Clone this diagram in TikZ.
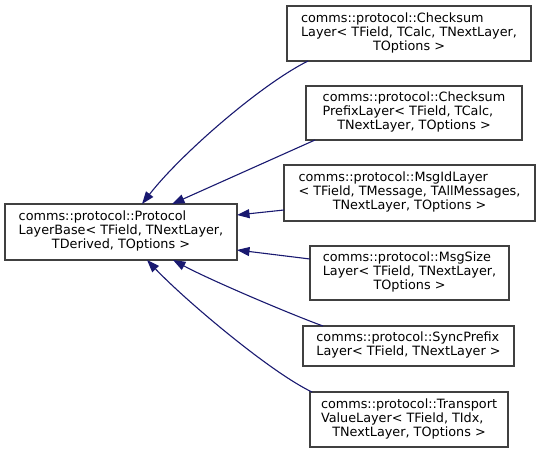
\documentclass[tikz,border=0pt]{standalone}
\usepackage{fontspec}
\setmainfont{DejaVu Sans}
\usetikzlibrary{arrows.meta,calc}
\definecolor{edgeblue}{HTML}{191970}
\definecolor{boxgray}{HTML}{404040}
\newcommand{\lblthree}[3]{\begin{tabular}{@{}l@{}}#1\\#2\\\multicolumn{1}{@{}c@{}}{#3}\end{tabular}}
\newcommand{\lbltwo}[2]{\begin{tabular}{@{}l@{}}#1\\\multicolumn{1}{@{}c@{}}{#2}\end{tabular}}
\tikzset{
  cls/.style={draw=boxgray, line width=1.3pt, fill=white, inner sep=0pt, outer sep=0pt,
    font=\fontsize{12.8}{13.8}\selectfont},
  inherit/.style={draw=edgeblue, line width=1.1pt, -{Triangle[length=12.5pt,width=9pt]}, fill=none}
}
\begin{document}
\begin{tikzpicture}[x=1pt,y=-1pt]
\useasboundingbox (0,0) rectangle (540,453);
\node[cls, minimum width=232pt, minimum height=56pt] (base) at (121,232)
  {\lblthree{comms::protocol::Protocol}{LayerBase< TField, TNextLayer,}{TDerived, TOptions >}};
\node[cls, minimum width=244pt, minimum height=55pt] (b1) at (409,33.5)
  {\lblthree{comms::protocol::Checksum}{Layer< TField, TCalc, TNextLayer,}{TOptions >}};
\node[cls, minimum width=216pt, minimum height=54pt] (b2) at (414,113)
  {\lblthree{comms::protocol::Checksum}{PrefixLayer< TField, TCalc,}{TNextLayer, TOptions >}};
\node[cls, minimum width=251pt, minimum height=56pt] (b3) at (409.5,193)
  {\lblthree{comms::protocol::MsgIdLayer}{< TField, TMessage, TAllMessages,}{TNextLayer, TOptions >}};
\node[cls, minimum width=199pt, minimum height=54pt] (b4) at (409.5,273)
  {\lblthree{comms::protocol::MsgSize}{Layer< TField, TNextLayer,}{TOptions >}};
\node[cls, minimum width=211pt, minimum height=40pt] (b5) at (408.5,346)
  {\lbltwo{comms::protocol::SyncPrefix}{Layer< TField, TNextLayer >}};
\node[cls, minimum width=198pt, minimum height=55pt] (b6) at (409,419.5)
  {\lblthree{comms::protocol::Transport}{ValueLayer< TField, TIdx,}{TNextLayer, TOptions >}};

\draw[inherit] ($(b1.south west)+(21,0)$) .. controls (260,85) and (180,155) .. ($(base.north)+(21,0)$);
\draw[inherit] ($(b2.south west)+(9,0)$) -- ($(base.north)+(51,0)$);
\draw[inherit] ($(b3.west)+(0,17)$) -- ($(base.east)+(0,-17)$);
\draw[inherit] ($(b4.west)+(0,-14)$) -- ($(base.east)+(0,18)$);
\draw[inherit] ($(b5.north west)+(20,0)$) .. controls (290,314) and (210,280) .. ($(base.south)+(52,0)$);
\draw[inherit] ($(b6.north west)+(2,0)$) .. controls (270,372) and (185,300) .. ($(base.south)+(26,0)$);
\end{tikzpicture}
\end{document}
